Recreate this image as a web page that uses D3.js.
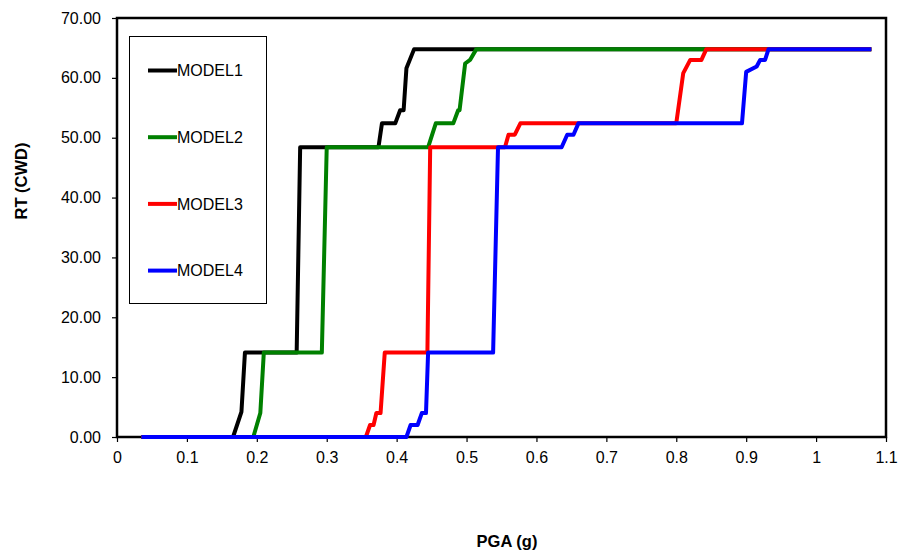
<!DOCTYPE html>
<html>
<head>
<meta charset="utf-8">
<script src="https://d3js.org/d3.v7.min.js"></script>
<style>
  body { margin: 0; background: #fff; }
  text { font-family: Arial, "Liberation Sans", sans-serif; }
</style>
</head>
<body>
<div id="chart"></div>
<script>
// values (PGA in g, RT in CWD)
var model1_x = [0.035, 0.166, 0.178, 0.183, 0.257, 0.262, 0.374, 0.379, 0.398, 0.405, 0.410, 0.414, 0.425, 1.079];
var model1_y = [0, 0, 4.2, 14.1, 14.1, 48.4, 48.4, 52.4, 52.4, 54.6, 54.6, 61.6, 64.8, 64.8];

var model2_x = [0.035, 0.195, 0.205, 0.210, 0.293, 0.300, 0.445, 0.456, 0.481, 0.488, 0.490, 0.498, 0.505, 0.514, 1.079];
var model2_y = [0, 0, 4, 14.1, 14.1, 48.4, 48.4, 52.4, 52.4, 54.6, 54.6, 62.4, 63, 64.8, 64.8];

var model3_x = [0.035, 0.356, 0.362, 0.367, 0.371, 0.377, 0.383, 0.444, 0.448, 0.555, 0.560, 0.569, 0.577, 0.800, 0.810, 0.820, 0.836, 0.843, 1.079];
var model3_y = [0, 0, 2, 2, 4, 4, 14.1, 14.1, 48.4, 48.4, 50.5, 50.5, 52.4, 52.4, 60.8, 63, 63, 64.8, 64.8];

var model4_x = [0.035, 0.414, 0.420, 0.430, 0.436, 0.442, 0.445, 0.538, 0.545, 0.636, 0.644, 0.653, 0.660, 0.894, 0.900, 0.915, 0.920, 0.927, 0.932, 1.079];
var model4_y = [0, 0, 2, 2, 4, 4, 14.1, 14.1, 48.4, 48.4, 50.5, 50.5, 52.4, 52.4, 61, 61.9, 63, 63, 64.8, 64.8];

var series_names = ["MODEL1", "MODEL2", "MODEL3", "MODEL4"];
var series_colors = ["#000000", "#008000", "#ff0000", "#0000ff"];
var x_ticks = [0, 0.1, 0.2, 0.3, 0.4, 0.5, 0.6, 0.7, 0.8, 0.9, 1, 1.1];
var y_ticks = [0, 10, 20, 30, 40, 50, 60, 70];

var series = [
  {name: series_names[0], color: series_colors[0], xs: model1_x, ys: model1_y},
  {name: series_names[1], color: series_colors[1], xs: model2_x, ys: model2_y},
  {name: series_names[2], color: series_colors[2], xs: model3_x, ys: model3_y},
  {name: series_names[3], color: series_colors[3], xs: model4_x, ys: model4_y}
];

// plot box in pixels
var width = 900, height = 554;
var plot = {left: 117, right: 886, top: 18, bottom: 437};

var svg = d3.select("#chart")
  .append("svg")
  .attr("width", width)
  .attr("height", height);

var x = d3.scaleLinear().domain([0, 1.1]).range([plot.left, plot.right]);
var y = d3.scaleLinear().domain([0, 70]).range([plot.bottom, plot.top]);

// axes
var xAxis = svg.append("g")
  .attr("transform", "translate(0," + plot.bottom + ")")
  .call(d3.axisBottom(x).tickValues(x_ticks).tickSize(5).tickPadding(10)
    .tickFormat(function(d) { return String(+d.toFixed(1)); }));

var yAxis = svg.append("g")
  .attr("transform", "translate(" + plot.left + ",0)")
  .call(d3.axisLeft(y).tickValues(y_ticks).tickSize(5).tickPadding(11)
    .tickFormat(d3.format(".2f")));

[xAxis, yAxis].forEach(function(a) {
  a.select(".domain").remove();
  a.selectAll(".tick line").attr("stroke", "#000").attr("stroke-width", 1.2);
  a.selectAll(".tick text")
    .attr("fill", "#000")
    .style("font-size", "16px")
    .style("font-family", "Arial, 'Liberation Sans', sans-serif");
});

// plot frame
svg.append("rect")
  .attr("x", plot.left)
  .attr("y", plot.top)
  .attr("width", plot.right - plot.left)
  .attr("height", plot.bottom - plot.top)
  .attr("fill", "none")
  .attr("stroke", "#000")
  .attr("stroke-width", 2.5);

// lines
var line = d3.line()
  .x(function(d) { return x(d[0]); })
  .y(function(d) { return y(d[1]); });

svg.selectAll("path.series")
  .data(series)
  .enter()
  .append("path")
  .attr("class", "series")
  .attr("fill", "none")
  .attr("stroke", function(d) { return d.color; })
  .attr("stroke-width", 4)
  .attr("stroke-linejoin", "round")
  .attr("d", function(d) { return line(d3.zip(d.xs, d.ys)); });

// legend
var legend = svg.append("g");
legend.append("rect")
  .attr("x", 129.5)
  .attr("y", 36.5)
  .attr("width", 137)
  .attr("height", 267)
  .attr("fill", "#fff")
  .attr("stroke", "#000")
  .attr("stroke-width", 1);

var item = legend.selectAll("g.item")
  .data(series)
  .enter()
  .append("g")
  .attr("class", "item")
  .attr("transform", function(d, i) { return "translate(148," + (70.5 + i * 66.7) + ")"; });

item.append("line")
  .attr("x1", 0)
  .attr("x2", 29)
  .attr("stroke", function(d) { return d.color; })
  .attr("stroke-width", 4);

item.append("text")
  .attr("x", 29)
  .attr("dy", "0.36em")
  .style("font-size", "16px")
  .text(function(d) { return d.name; });

// axis titles
svg.append("text")
  .attr("x", 507)
  .attr("y", 547)
  .attr("text-anchor", "middle")
  .style("font-size", "16.5px")
  .style("font-weight", "bold")
  .text("PGA (g)");

svg.append("text")
  .attr("transform", "translate(27,181) rotate(-90)")
  .attr("text-anchor", "middle")
  .style("font-size", "16.5px")
  .style("font-weight", "bold")
  .text("RT (CWD)");
</script>
</body>
</html>
